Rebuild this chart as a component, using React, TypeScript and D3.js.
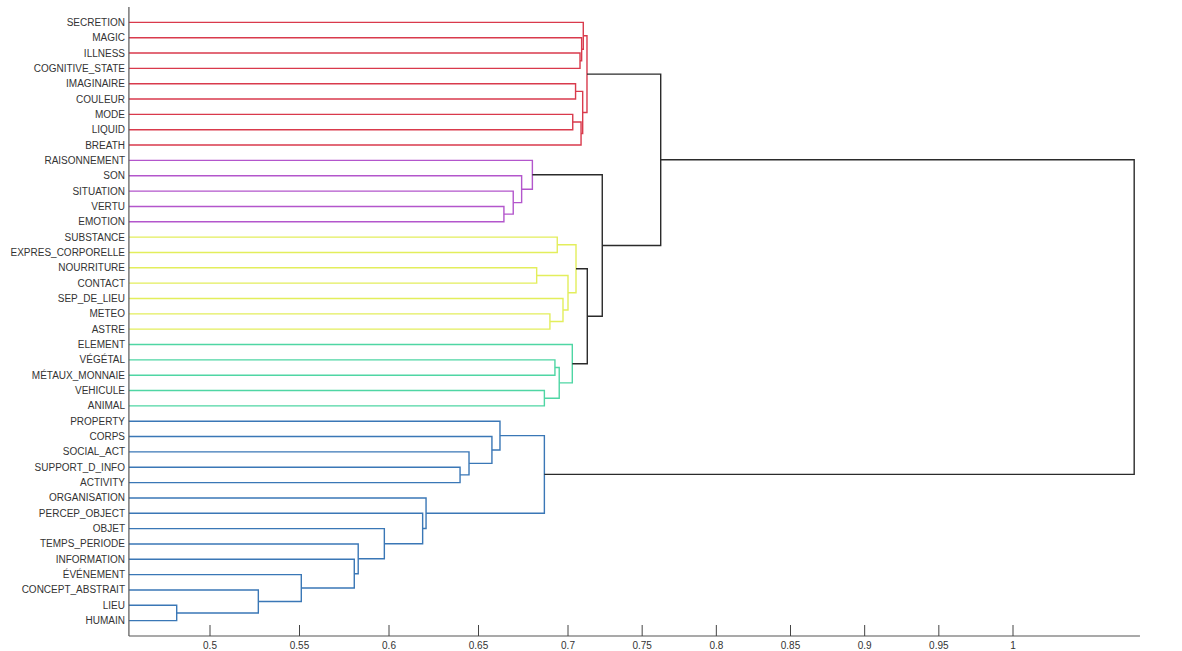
import React from "react";
import * as d3 from "d3";

// Leaf labels, top to bottom
const labels = [
  "SECRETION", "MAGIC", "ILLNESS", "COGNITIVE_STATE", "IMAGINAIRE", "COULEUR", "MODE", "LIQUID", "BREATH",
  "RAISONNEMENT", "SON", "SITUATION", "VERTU", "EMOTION",
  "SUBSTANCE", "EXPRES_CORPORELLE", "NOURRITURE", "CONTACT", "SEP_DE_LIEU", "METEO", "ASTRE",
  "ELEMENT", "VÉGÉTAL", "MÉTAUX_MONNAIE", "VEHICULE", "ANIMAL",
  "PROPERTY", "CORPS", "SOCIAL_ACT", "SUPPORT_D_INFO", "ACTIVITY", "ORGANISATION", "PERCEP_OBJECT",
  "OBJET", "TEMPS_PERIODE", "INFORMATION", "ÉVÉNEMENT", "CONCEPT_ABSTRAIT", "LIEU", "HUMAIN",
];

// Linkage rows: [child A, child B, height]; "#k" refers to row k
const linkage: [string, string, number][] = [
  ["ILLNESS", "COGNITIVE_STATE", 0.7081],
  ["MAGIC", "#0", 0.7092],
  ["SECRETION", "#1", 0.7103],
  ["IMAGINAIRE", "COULEUR", 0.7051],
  ["MODE", "LIQUID", 0.7032],
  ["#4", "BREATH", 0.7088],
  ["#3", "#5", 0.7099],
  ["#2", "#6", 0.7128],
  ["VERTU", "EMOTION", 0.6642],
  ["SITUATION", "#8", 0.6694],
  ["SON", "#9", 0.6741],
  ["RAISONNEMENT", "#10", 0.6801],
  ["SUBSTANCE", "EXPRES_CORPORELLE", 0.694],
  ["NOURRITURE", "CONTACT", 0.6825],
  ["METEO", "ASTRE", 0.6899],
  ["SEP_DE_LIEU", "#14", 0.6972],
  ["#13", "#15", 0.7],
  ["#12", "#16", 0.7054],
  ["VÉGÉTAL", "MÉTAUX_MONNAIE", 0.6927],
  ["VEHICULE", "ANIMAL", 0.6868],
  ["#18", "#19", 0.6951],
  ["ELEMENT", "#20", 0.7029],
  ["LIEU", "HUMAIN", 0.4814],
  ["CONCEPT_ABSTRAIT", "#22", 0.527],
  ["ÉVÉNEMENT", "#23", 0.551],
  ["INFORMATION", "#24", 0.5806],
  ["TEMPS_PERIODE", "#25", 0.5828],
  ["OBJET", "#26", 0.5974],
  ["PERCEP_OBJECT", "#27", 0.6188],
  ["ORGANISATION", "#28", 0.6207],
  ["SUPPORT_D_INFO", "ACTIVITY", 0.6397],
  ["SOCIAL_ACT", "#30", 0.6447],
  ["CORPS", "#31", 0.6575],
  ["PROPERTY", "#32", 0.662],
  ["#33", "#29", 0.6868],
  ["#17", "#21", 0.713],
  ["#11", "#35", 0.7231],
  ["#7", "#36", 0.7625],
  ["#37", "#34", 1.0817],
];

// Cluster roots (row index) and their colours
const groupRoots = [7, 11, 17, 21, 34];
const groupColors = ["#d93a4c", "#b356cc", "#e3ee5c", "#4fd6a4", "#3a77b6"];
const aboveColor = "#2b2b2b";

// Axis ticks
const tickValues = [0.5, 0.55, 0.6, 0.65, 0.7, 0.75, 0.8, 0.85, 0.9, 0.95, 1];
const tickLabels = ["0.5", "0.55", "0.6", "0.65", "0.7", "0.75", "0.8", "0.85", "0.9", "0.95", "1"];
const axisMin = 0.4547;
const axisMax = 1.0856;

export default function App() {
  const W = 1182, H = 651;
  const n = labels.length;
  const x = d3.scaleLinear().domain([0.5, 0.7, 1.0]).range([210, 568, 1013]);
  const y = d3.scaleLinear().domain([0, n + 1]).range([636, 7]);
  const x0 = x(axisMin);
  const x1 = x(axisMax);

  // leaf positions: top leaf has index n
  const leafPos = new Map<string, number>();
  labels.forEach((l, i) => leafPos.set(l, n - i));

  const nodeY: number[] = [];
  const nodeH: number[] = [];
  const resolve = (c: string) =>
    c.startsWith("#") ? { p: nodeY[+c.slice(1)], h: nodeH[+c.slice(1)] } : { p: leafPos.get(c)!, h: null as number | null };
  const children: number[][] = [];
  linkage.forEach(([a, b, h], k) => {
    const A = resolve(a), B = resolve(b);
    nodeY[k] = (A.p + B.p) / 2;
    nodeH[k] = h;
    children[k] = [a, b].filter((c) => c.startsWith("#")).map((c) => +c.slice(1));
  });

  // colours: each group root and its descendants
  const rowColor: string[] = linkage.map(() => aboveColor);
  const paint = (k: number, col: string) => {
    rowColor[k] = col;
    children[k].forEach((c) => paint(c, col));
  };
  groupRoots.forEach((r, g) => paint(r, groupColors[g]));

  const paths = linkage.map(([a, b, h], k) => {
    const A = resolve(a), B = resolve(b);
    const xa = A.h === null ? x0 : x(A.h);
    const xb = B.h === null ? x0 : x(B.h);
    const xm = x(h);
    const p = d3.path();
    p.moveTo(xa, y(A.p));
    p.lineTo(xm, y(A.p));
    p.lineTo(xm, y(B.p));
    p.lineTo(xb, y(B.p));
    return <path key={k} d={p.toString()} fill="none" stroke={rowColor[k]} strokeWidth={1.4} />;
  });

  return (
    <svg width={W} height={H} style={{ position: "absolute", left: 0, top: 0, background: "#fff" }}
      fontFamily="'Liberation Sans', Arial, sans-serif">
      <rect x={0} y={0} width={W} height={H} fill="#fff" />
      {paths}
      {/* axes */}
      <line x1={x0} x2={x0} y1={y(n + 1)} y2={y(0)} stroke="#555" strokeWidth={1.2} />
      <line x1={x0} x2={x1} y1={y(0)} y2={y(0)} stroke="#555" strokeWidth={1.2} />
      {tickValues.map((v, i) => (
        <g key={i}>
          <line x1={x(v)} x2={x(v)} y1={y(0)} y2={y(0) - 11} stroke="#444" strokeWidth={1} />
          <text x={x(v)} y={648.5} fontSize={10} textAnchor="middle" fill="#333">{tickLabels[i]}</text>
        </g>
      ))}
      {labels.map((l, i) => (
        <text key={l} x={125} y={y(n - i)} dy="0.35em" fontSize={10} textAnchor="end" fill="#333">{l}</text>
      ))}
    </svg>
  );
}
